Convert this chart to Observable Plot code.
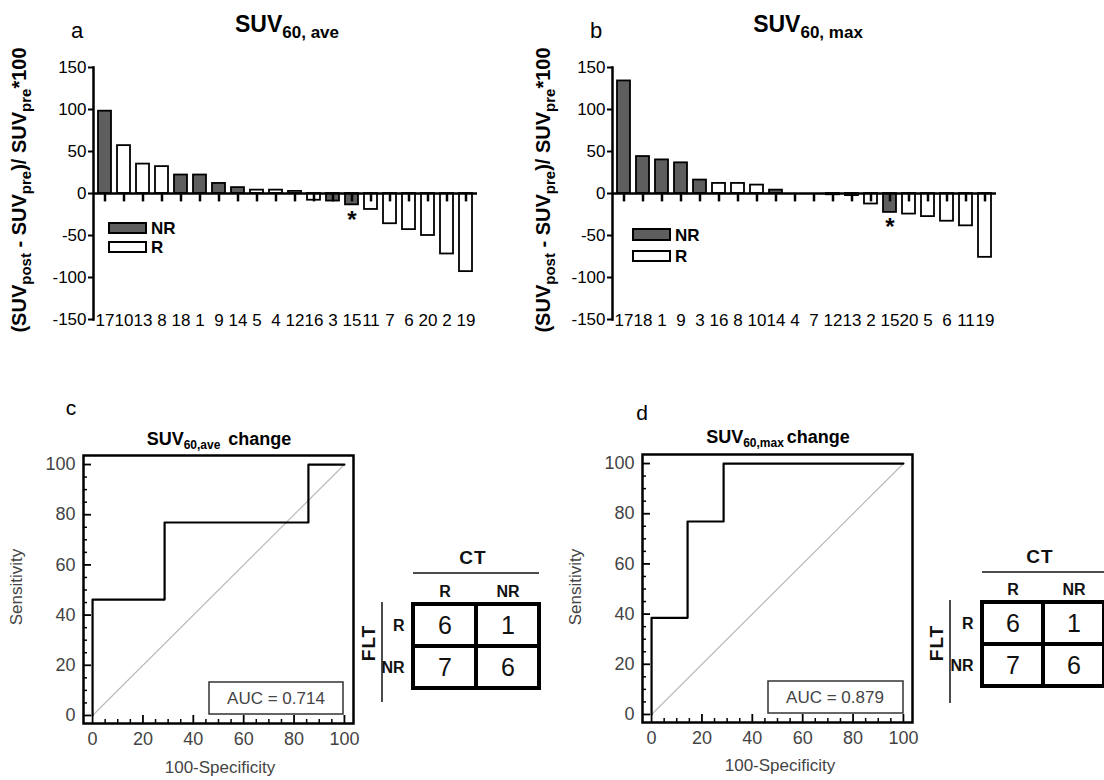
<!DOCTYPE html>
<html><head><meta charset="utf-8">
<script src="https://cdn.jsdelivr.net/npm/d3@7"></script>
<script src="https://cdn.jsdelivr.net/npm/@observablehq/plot@0.6"></script>
<style>
body{margin:0;background:#fff;}
#fig{position:relative;width:1104px;height:780px;overflow:hidden;background:#fff;font-family:"Liberation Sans",Arial,Helvetica,sans-serif;}
#fig > svg{position:absolute;}
</style></head><body><div id="fig"></div>
<script>
const FONT = '"Liberation Sans", Arial, Helvetica, sans-serif';

// ---- data: panel a (SUV60,ave change, %) ----
const patientsAve = ["17","10","13","8","18","1","9","14","5","4","12","16","3","15","11","7","6","20","2","19"];
const changeAve   = [98, 57, 35, 32, 22, 22, 12, 7, 4, 4, 2.5, -8, -9, -13.5, -19, -36, -43, -50, -72, -93];
// ---- data: panel b (SUV60,max change, %) ----
const patientsMax = ["17","18","1","9","3","16","8","10","14","4","7","12","13","2","15","20","5","6","11","19"];
const changeMax   = [134, 44, 40, 36.5, 16, 12, 12, 10, 4, 0, 0, -1.5, -2.5, -12.5, -22.5, -24.5, -27.5, -33, -38.5, -76];
const nonResponders = ["17","18","1","9","14","3","15"];
const flagged = ["15"];
const yTicksBar = [-150, -100, -50, 0, 50, 100, 150];

// ---- data: ROC curves ----
const rocAveFpr = [0, 0, 28.6, 28.6, 85.7, 85.7, 100];
const rocAveTpr = [0, 46.2, 46.2, 76.9, 76.9, 100, 100];
const rocMaxFpr = [0, 0, 14.3, 14.3, 28.6, 28.6, 100];
const rocMaxTpr = [0, 38.5, 38.5, 76.9, 76.9, 100, 100];
const chanceLine = [0, 100];
const aucValues = [0.714, 0.879];
const rocTicks = [0, 20, 40, 60, 80, 100];
const rocMinorTicks = [5, 10, 15, 25, 30, 35, 45, 50, 55, 65, 70, 75, 85, 90, 95];

// ---- data: 2x2 tables (rows FLT, columns CT) ----
const ctLevels = ["R", "NR"];
const fltLevels = ["R", "NR"];
const countsAve = [6, 1, 7, 6];
const countsMax = [6, 1, 7, 6];

const fig = document.getElementById("fig");
function place(el, left, top) { el.style.left = left + "px"; el.style.top = top + "px"; fig.appendChild(el); }

function barPanel(ids, vals, left) {
  const rows = ids.map((id, i) => ({id, value: vals[i]}));
  const nr = new Set(nonResponders);
  const p = Plot.plot({
    width: 520, height: 345, marginLeft: 94, marginRight: 43, marginTop: 67, marginBottom: 26,
    style: {fontFamily: FONT, fontSize: "17px", background: "none", overflow: "visible", color: "#000"},
    x: {domain: ids, paddingInner: 0.3, paddingOuter: 0.15},
    y: {domain: [-150, 150]},
    marks: [
      Plot.barY(rows, {x: "id", y: "value", fill: d => nr.has(d.id) ? "#5e5e5e" : "#ffffff", stroke: "#000", strokeWidth: 1.8}),
      Plot.ruleY([0], {stroke: "#000", strokeWidth: 2.5}),
      Plot.ruleX(ids, {x: d => d, y1: 0, y2: -10, stroke: "#000", strokeWidth: 2.5}),
      Plot.frame({anchor: "left", stroke: "#000", strokeWidth: 2.5, dx: -1}),
      Plot.axisY({ticks: yTicksBar, tickFormat: d => String(d), tickSize: 6, tickPadding: 2, fontSize: 17, strokeWidth: 2, label: null}),
      Plot.axisX({tickSize: 0, tickPadding: -6, fontSize: 17, label: null}),
      Plot.text(rows.filter(d => flagged.includes(d.id)), {x: "id", y: "value", text: () => "*", dy: 15, fontSize: 24, fontWeight: "bold"})
    ]
  });
  place(p, left, 0);
}

function rocPanel(fpr, tpr, left, top) {
  const pts = fpr.map((f, i) => ({fpr: f, tpr: tpr[i]}));
  const W = 370, H = 330, ml = 83, mr = 17, mt = 25, mb = 37;
  const xd = [-3.6, 103.6], yd = [-3.2, 103.6];
  const ux = (xd[1] - xd[0]) / (W - ml - mr), uy = (yd[1] - yd[0]) / (H - mt - mb);
  const p = Plot.plot({
    width: W, height: H, marginLeft: ml, marginRight: mr, marginTop: mt, marginBottom: mb,
    style: {fontFamily: FONT, fontSize: "18px", background: "none", overflow: "visible", color: "#444"},
    x: {domain: xd}, y: {domain: yd},
    marks: [
      Plot.line(chanceLine, {x: d => d, y: d => d, stroke: "#bbb", strokeWidth: 1.2}),
      Plot.line(pts, {x: "fpr", y: "tpr", stroke: "#000", strokeWidth: 2.2}),
      Plot.ruleX(rocTicks, {x: d => d, y1: yd[0], y2: yd[0] + 8 * uy, stroke: "#000", strokeWidth: 1.8}),
      Plot.ruleX(rocMinorTicks, {x: d => d, y1: yd[0], y2: yd[0] + 4 * uy, stroke: "#000", strokeWidth: 1.5}),
      Plot.ruleY(rocTicks, {y: d => d, x1: xd[0], x2: xd[0] + 8 * ux, stroke: "#000", strokeWidth: 1.8}),
      Plot.ruleY(rocMinorTicks, {y: d => d, x1: xd[0], x2: xd[0] + 4 * ux, stroke: "#000", strokeWidth: 1.5}),
      Plot.frame({stroke: "#000", strokeWidth: 2.5}),
      Plot.axisX({ticks: rocTicks, tickSize: 0, tickPadding: 9, fontSize: 18, label: null}),
      Plot.axisY({ticks: rocTicks, tickSize: 0, tickPadding: 8, fontSize: 18, label: null})
    ]
  });
  place(p, left, top);
}

function tablePanel(counts, left, top, width, mr) {
  const rows = [];
  fltLevels.forEach((f, i) => ctLevels.forEach((c, j) => rows.push({flt: f, ct: c, n: counts[i * 2 + j]})));
  const p = Plot.plot({
    width, height: 170, marginLeft: 83, marginRight: mr, marginTop: 63, marginBottom: 22,
    style: {fontFamily: FONT, fontSize: "16px", fontWeight: "bold", background: "none", overflow: "visible", color: "#111"},
    x: {domain: ctLevels, padding: 0}, y: {domain: fltLevels, padding: 0},
    marks: [
      Plot.cell(rows, {x: "ct", y: "flt", fill: "#fff", stroke: "#000", strokeWidth: 4, inset: 0}),
      Plot.text(rows, {x: "ct", y: "flt", text: d => String(d.n), fontSize: 25, fontWeight: "normal", fill: "#111"}),
      Plot.axisX({anchor: "top", tickSize: 0, tickPadding: 7, fontSize: 16, fontWeight: "bold", label: null}),
      Plot.axisY({tickSize: 0, tickPadding: 9, fontSize: 16, fontWeight: "bold", label: null})
    ]
  });
  place(p, left, top);
}

barPanel(patientsAve, changeAve, 0);
barPanel(patientsMax, changeMax, 519);
rocPanel(rocAveFpr, rocAveTpr, 0, 430);
rocPanel(rocMaxFpr, rocMaxTpr, 559, 429);
tablePanel(countsAve, 330, 540, 213, 4);
tablePanel(countsMax, 899, 538, 205, 0);

// ---- annotations overlay ----
const yLab = (x) => `<text transform="translate(${x},190) rotate(-90)" text-anchor="middle" font-weight="bold" font-size="20">(SUV<tspan font-size="15" dy="5">post</tspan><tspan dy="-5"> - SUV</tspan><tspan font-size="15" dy="5">pre</tspan><tspan dy="-5">)/ SUV</tspan><tspan font-size="15" dy="5">pre</tspan><tspan dy="-5">*100</tspan></text>`;
const legend = (x, y1, h1, y2, h2) => `
  <rect x="${x}" y="${y1}" width="37" height="${h1}" fill="#5e5e5e" stroke="#000" stroke-width="2"/>
  <rect x="${x}" y="${y2}" width="37" height="${h2}" fill="#fff" stroke="#000" stroke-width="2"/>
  <text x="${x + 42}" y="${y1 + h1 / 2 + 6}" font-weight="bold" font-size="17">NR</text>
  <text x="${x + 42}" y="${y2 + h2 / 2 + 6}" font-weight="bold" font-size="17">R</text>`;
const tableDeco = (ctx, lineX1, lineX2, lineY, vx, vy1, vy2, fltX) => `
  <text x="${ctx}" y="${lineY - 9}" text-anchor="middle" font-weight="bold" font-size="19" letter-spacing="1" fill="#111">CT</text>
  <line x1="${lineX1}" x2="${lineX2}" y1="${lineY}" y2="${lineY}" stroke="#111" stroke-width="1.5"/>
  <line x1="${vx}" x2="${vx}" y1="${vy1}" y2="${vy2}" stroke="#111" stroke-width="1.5"/>
  <text transform="translate(${fltX},643) rotate(-90)" text-anchor="middle" font-weight="bold" font-size="19" letter-spacing="1" fill="#111">FLT</text>`;

const overlay = `<svg xmlns="http://www.w3.org/2000/svg" width="1104" height="780" style="left:0;top:0;pointer-events:none;font-family:${FONT.replace(/"/g, "'")}">
  <text x="77" y="38" text-anchor="middle" font-size="22">a</text>
  <text x="596" y="38" text-anchor="middle" font-size="22">b</text>
  <text x="287" y="32" text-anchor="middle" font-weight="bold" font-size="23">SUV<tspan font-size="17" dy="6">60, ave</tspan></text>
  <text x="808" y="32" text-anchor="middle" font-weight="bold" font-size="23">SUV<tspan font-size="17" dy="6">60, max</tspan></text>
  ${yLab(26)}
  ${yLab(550)}
  ${legend(109, 223, 10, 242, 10)}
  ${legend(633, 229, 11, 251, 10)}
  <text x="71" y="415" text-anchor="middle" font-size="21">c</text>
  <text x="642" y="420" text-anchor="middle" font-size="21">d</text>
  <text x="219" y="445" text-anchor="middle" font-weight="bold" font-size="18">SUV<tspan font-size="12" dy="4">60,ave</tspan><tspan dx="8" dy="-4">change</tspan></text>
  <text x="778" y="443" text-anchor="middle" font-weight="bold" font-size="18">SUV<tspan font-size="12" dy="4">60,max</tspan><tspan dx="3" dy="-4">change</tspan></text>
  <text transform="translate(22,587) rotate(-90)" text-anchor="middle" font-size="17" fill="#444">Sensitivity</text>
  <text transform="translate(581,587) rotate(-90)" text-anchor="middle" font-size="17" fill="#444">Sensitivity</text>
  <text x="220" y="773" text-anchor="middle" font-size="17" fill="#444">100-Specificity</text>
  <text x="780" y="771" text-anchor="middle" font-size="17" fill="#444">100-Specificity</text>
  <rect x="209" y="682" width="134" height="32" fill="#fff" stroke="#333" stroke-width="1.5"/>
  <text x="276" y="704" text-anchor="middle" font-size="17" fill="#444">AUC = ${aucValues[0].toFixed(3)}</text>
  <rect x="768" y="681" width="135" height="32" fill="#fff" stroke="#333" stroke-width="1.5"/>
  <text x="835" y="703" text-anchor="middle" font-size="17" fill="#444">AUC = ${aucValues[1].toFixed(3)}</text>
  ${tableDeco(473, 413, 539, 573, 382, 602, 702, 375)}
  ${tableDeco(1040, 982, 1104, 572, 950, 600, 703, 943)}
</svg>`;
fig.insertAdjacentHTML("beforeend", overlay);
</script></body></html>
